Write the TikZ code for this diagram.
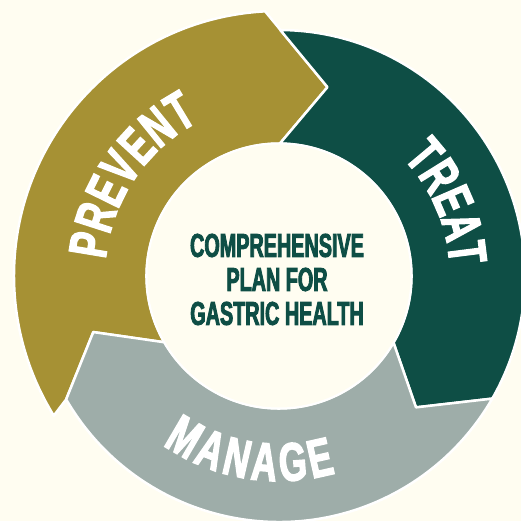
\documentclass[tikz,border=0pt]{standalone}
\usepackage{fontspec}
\usepackage{xcolor}
\usepackage{tikz}
\usetikzlibrary{decorations.text}

\newfontfamily\dinfont{Liberation Sans Bold}[FakeStretch=0.6,FakeBold=2.5]
\newfontfamily\ringfont{Liberation Sans Bold}[FakeStretch=0.66,FakeBold=2.5]

\definecolor{cream}{RGB}{255,253,241}
\definecolor{preventcol}{RGB}{166,145,52}
\definecolor{treatcol}{RGB}{14,78,69}
\definecolor{managecol}{RGB}{158,173,169}

\begin{document}
\begin{tikzpicture}[x=1pt, y=1pt]

	\tikzstyle{segment}=[draw=white, line width=2.5pt, line join=round]
	\tikzstyle{ringtext}=[decorate, decoration={text along path, text color=white, text align={fit to path}}]
	\tikzstyle{hub}=[circle, fill=cream, draw=white, line width=2pt, minimum size=265pt, inner sep=0pt]

	\useasboundingbox[fill=cream] (-279,-245) rectangle (242,276);

	% Prevent arrow, tail under the manage head
	\path[segment, fill=preventcol] (93:265) arc (93:211.8:265) -- (210.1:246) -- (196.8:194)
		-- (210:132.5) arc (210:89.6:132.5) -- (75.6:195) -- cycle;
	% Treat arrow
	\path[segment, fill=treatcol] (89.7:246) arc (89.7:-29.9:246) -- (-43.8:189.8)
		-- (-30.2:132.5) arc (-30.2:89.6:132.5) -- (75.6:195) -- cycle;
	% Manage arrow
	\path[segment, fill=managecol] (-29.9:246) -- (-43.8:189.8) -- (-30.2:132.5)
		arc (-30.2:-150:132.5) -- (-163.2:194) -- (-149.9:246) arc (-149.9:-29.9:246) -- cycle;

	% centre disc
	\node[hub] (hub) at (0,0) {};
	\node[text=treatcol, align=center, font=\dinfont\fontsize{33}{34}\selectfont] (plan) at (-2,-3.5)
		{COMPREHENSIVE\\PLAN FOR\\GASTRIC HEALTH};

	% words on the ring
	\path[ringtext, decoration={text={|\ringfont\fontsize{54}{54}\selectfont|PREVENT}}] (174.5:174) arc (174.5:117.5:174);
	\path[ringtext, decoration={text={|\ringfont\fontsize{54}{54}\selectfont|TREAT}}] (43.5:171) arc (43.5:3.5:171);
	\path[ringtext, decoration={text={|\ringfont\fontsize{54}{54}\selectfont|MANAGE}}] (235.5:205) arc (235.5:286:205);

\end{tikzpicture}
\end{document}
